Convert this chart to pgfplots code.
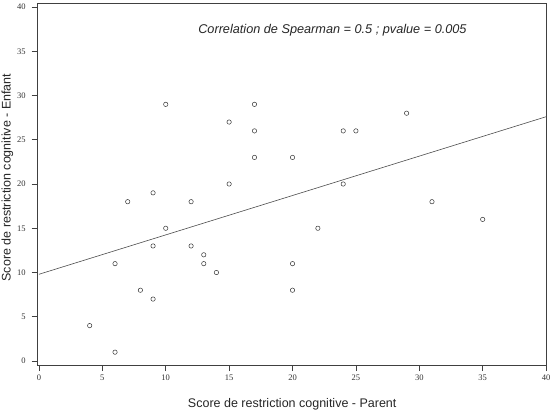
\documentclass[border=0pt]{standalone}
\usepackage{fontspec}
\setmainfont{Liberation Sans}
\newfontfamily\tickfont{Liberation Serif}
\usepackage{pgfplots}
\pgfplotsset{compat=1.18}
\begin{document}
\begin{tikzpicture}
\begin{axis}[
  scale only axis,
  width=509pt, height=362pt,
  xmin=-0.1, xmax=40.05, ymin=-0.45, ymax=40.45,
  xtick={0,5,...,40}, ytick={0,5,...,40},
  xtick pos=bottom, ytick pos=left,
  tick align=outside,
  major tick length=6pt,
  tick style={black!75, line width=0.6pt},
  axis line style={black!75, line width=0.7pt},
  ticklabel style={font=\tickfont\fontsize{8.5}{10}\selectfont, text=black!80},
  yticklabel style={xshift=-2.5pt},
  /pgf/number format/assume math mode=true,
  xlabel={Score de restriction cognitive - Parent},
  ylabel={Score de restriction cognitive - Enfant},
  label style={font=\fontsize{12.5}{14}\selectfont, text=black!85},
  xlabel style={at={(axis description cs:0.5,-0.108)}, anchor=center},
  ylabel style={at={(axis description cs:-0.0595,0.518)}, anchor=center},
  clip=false,
]
% regression line
\addplot[black!70, line width=0.6pt, forget plot] coordinates {(0,9.8) (40,27.6)};
% observations
\addplot[only marks, mark=o, mark size=2.2pt, mark options={black!80, line width=0.5pt}] coordinates {
  (4,4) (6,1) (6,11) (7,18) (8,8) (9,7) (9,13) (9,19) (10,15) (10,29)
  (12,13) (12,18) (13,11) (13,12) (14,10) (15,20) (15,27) (17,23) (17,26) (17,29)
  (20,8) (20,11) (20,23) (22,15) (24,20) (24,26) (25,26) (29,28) (31,18) (35,16)
};
\node[font=\itshape\fontsize{12.7}{14}\selectfont, text=black!85] at (axis cs:23.15,37.4)
  {Correlation de Spearman = 0.5 ; pvalue = 0.005};
\end{axis}
\pgfresetboundingbox
\path (-37.7pt,-47pt) rectangle (518.3pt,365pt);
\end{tikzpicture}
\end{document}
